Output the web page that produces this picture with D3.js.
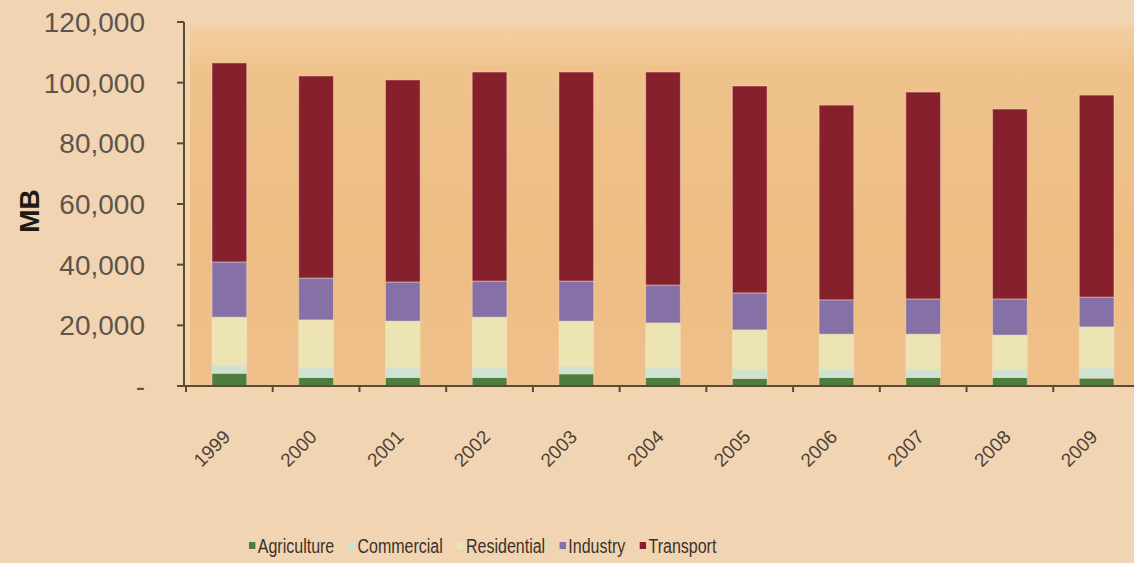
<!DOCTYPE html>
<html>
<head>
<meta charset="utf-8">
<script src="https://cdn.jsdelivr.net/npm/d3@7"></script>
<style>
  html, body { margin: 0; padding: 0; background: #f1d5b3; }
  svg { display: block; font-family: "Liberation Sans", Arial, sans-serif; }
</style>
</head>
<body>
<div id="chart"></div>
<script>
// ==============================
// Energy use by sector (MB), 1999-2009
// ==============================

// --- Data ---
const years = ["1999", "2000", "2001", "2002", "2003", "2004", "2005", "2006", "2007", "2008", "2009"];
const sectors = ["Agriculture", "Commercial", "Residential", "Industry", "Transport"];

const agriculture = [4200, 2800, 2800, 2800, 4000, 2800, 2500, 2800, 2800, 2800, 2600];
const commercial  = [2800, 3200, 3200, 3200, 2500, 3200, 3000, 2700, 2700, 2700, 3400];
const residential = [15700, 15800, 15400, 16700, 14900, 14800, 13000, 11600, 11600, 11300, 13500];
const industry    = [18200, 13800, 12900, 11900, 13200, 12500, 12200, 11300, 11600, 11900, 9800];
const transport   = [65600, 66600, 66600, 68900, 68900, 70200, 68200, 64200, 68200, 62600, 66600];

const yTicks = [0, 20000, 40000, 60000, 80000, 100000, 120000];

const colors = ["#4e7e3e", "#cfe3d3", "#ece4b2", "#8571a5", "#86202c"];

// --- Build rows for the stack ---
const series = [agriculture, commercial, residential, industry, transport];
const rows = years.map((y, i) => {
  const r = { year: y };
  sectors.forEach((s, k) => { r[s] = series[k][i]; });
  return r;
});

// --- SVG setup ---
const width = 1134, height = 563;
const svg = d3.select("#chart").append("svg")
  .attr("width", width)
  .attr("height", height);

const x = d3.scaleBand()
  .domain(years)
  .range([186, 1140])
  .paddingInner(0.6)
  .paddingOuter(0.3);

const y = d3.scaleLinear()
  .domain([0, 120000])
  .range([386, 22]);

// --- Plot area background ---
const defs = svg.append("defs");
const grad = defs.append("linearGradient")
  .attr("id", "plotBg")
  .attr("x1", 0).attr("y1", 0).attr("x2", 0).attr("y2", 1);
grad.append("stop").attr("offset", "0%").attr("stop-color", "#f2d0a2");
grad.append("stop").attr("offset", "12%").attr("stop-color", "#efc28c");
grad.append("stop").attr("offset", "60%").attr("stop-color", "#eebd84");
grad.append("stop").attr("offset", "100%").attr("stop-color", "#efc08a");

svg.append("rect")
  .attr("x", 190)
  .attr("y", y(119000))
  .attr("width", width - 190)
  .attr("height", y(0) - y(119000))
  .attr("fill", "url(#plotBg)");

// --- Stacked bars ---
const stack = d3.stack().keys(sectors);
const layers = stack(rows);

svg.append("g")
  .selectAll("g")
  .data(layers)
  .join("g")
  .attr("fill", (d, i) => colors[i])
  .selectAll("rect")
  .data(d => d)
  .join("rect")
  .attr("x", d => x(d.data.year))
  .attr("y", d => y(d[1]))
  .attr("width", x.bandwidth())
  .attr("height", d => y(d[0]) - y(d[1]))
  .attr("stroke", "rgba(250,225,200,0.45)")
  .attr("stroke-width", 1);

// --- Y axis ---
const axisColor = "#5e4a32";
const yAxis = svg.append("g").attr("transform", "translate(184,0)");

yAxis.append("line")
  .attr("y1", y(120000)).attr("y2", y(0))
  .attr("stroke", axisColor).attr("stroke-width", 2);

yAxis.selectAll("line.tick")
  .data(yTicks)
  .join("line")
  .attr("class", "tick")
  .attr("x1", -7).attr("x2", 0)
  .attr("y1", d => y(d)).attr("y2", d => y(d))
  .attr("stroke", axisColor).attr("stroke-width", 2);

const fmt = d3.format(",");
yAxis.selectAll("text")
  .data(yTicks)
  .join("text")
  .attr("x", -39)
  .attr("y", d => y(d))
  .attr("dy", "0.36em")
  .attr("text-anchor", "end")
  .attr("font-size", 28)
  .attr("fill", "#5e544b")
  .text(d => d === 0 ? "-" : fmt(d));

// --- Y axis title ---
svg.append("text")
  .attr("transform", "translate(29,211) rotate(-90)")
  .attr("text-anchor", "middle")
  .attr("dy", "0.36em")
  .attr("font-size", 28)
  .attr("font-weight", "bold")
  .attr("fill", "#1e1a16")
  .text("MB");

// --- X axis ---
const step = x.step();
const gap = step - x.bandwidth();
const xAxis = svg.append("g");

xAxis.append("line")
  .attr("x1", 184).attr("x2", width)
  .attr("y1", y(0)).attr("y2", y(0))
  .attr("stroke", axisColor).attr("stroke-width", 2);

xAxis.selectAll("line.tick")
  .data(years)
  .join("line")
  .attr("class", "tick")
  .attr("x1", d => x(d) - gap / 2).attr("x2", d => x(d) - gap / 2)
  .attr("y1", y(0)).attr("y2", y(0) + 6)
  .attr("stroke", axisColor).attr("stroke-width", 2);

xAxis.selectAll("text")
  .data(years)
  .join("text")
  .attr("transform", d => `translate(${x(d) + x.bandwidth() / 2 + 2},${y(0) + 52}) rotate(-45)`)
  .attr("text-anchor", "end")
  .attr("font-size", 19)
  .attr("fill", "#4e4238")
  .text(d => d);

// --- Legend (narrow, like the original) ---
const legend = svg.append("g").attr("transform", "translate(249,553) scale(0.8,1)");
let lx = 0;
sectors.forEach((s, i) => {
  legend.append("rect")
    .attr("x", lx)
    .attr("y", -11)
    .attr("width", 8)
    .attr("height", 7)
    .attr("fill", colors[i]);
  const t = legend.append("text")
    .attr("x", lx + 11)
    .attr("y", 0)
    .attr("font-size", 20)
    .attr("fill", "#3b3228")
    .text(s);
  lx += 11 + t.node().getComputedTextLength() + 18;
});
</script>
</body>
</html>
